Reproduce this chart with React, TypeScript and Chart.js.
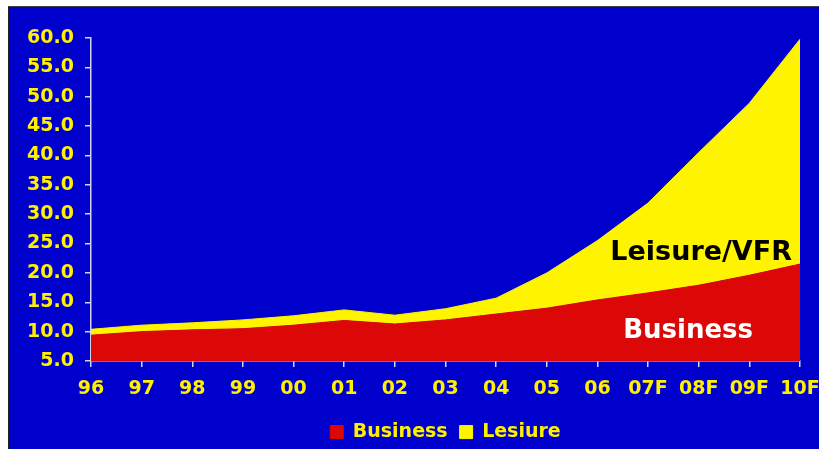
import React, { useEffect, useRef } from "react";
import { Chart, registerables } from "chart.js";

Chart.register(...registerables);

const categories = ["96", "97", "98", "99", "00", "01", "02", "03", "04", "05", "06", "07F", "08F", "09F", "10F"];
const business = [9.4, 10.0, 10.3, 10.5, 11.1, 11.9, 11.3, 12.0, 13.0, 14.0, 15.4, 16.6, 17.9, 19.6, 21.5];
const leisure = [1.0, 1.1, 1.2, 1.5, 1.6, 1.8, 1.5, 1.9, 2.7, 6.0, 10.1, 15.3, 22.6, 29.3, 38.3];
const yTicks = [5, 10, 15, 20, 25, 30, 35, 40, 45, 50, 55, 60];
const seriesNames = ["Business", "Lesiure"];
const areaLabels = ["Leisure/VFR", "Business"];

const BLUE = "#0000CC";
const RED = "#DC0808";
const YELLOW = "#FFF400";
const LABEL = "#FFF000";
const AXIS = "#D4D4F4";
const FONT = "'DejaVu Sans', Verdana, sans-serif";

const areaLabelPlugin = {
  id: "areaLabels",
  afterDatasetsDraw(chart: any) {
    const { ctx, scales } = chart;
    const x = scales.x;
    const y = scales.y;
    ctx.save();
    ctx.textAlign = "right";
    ctx.textBaseline = "middle";
    ctx.font = `bold 27px ${FONT}`;
    ctx.fillStyle = "#000000";
    ctx.fillText(areaLabels[0], x.right - 8, y.getPixelForValue(23.4));
    ctx.font = `bold 26px ${FONT}`;
    ctx.fillStyle = "#FFFFFF";
    ctx.fillText(areaLabels[1], x.right - 47, y.getPixelForValue(10.0));
    ctx.restore();
  },
};

export default function App() {
  const ref = useRef<HTMLCanvasElement | null>(null);

  useEffect(() => {
    if (!ref.current) return;
    const chart = new Chart(ref.current, {
      type: "line",
      data: {
        labels: categories,
        datasets: [
          {
            label: seriesNames[0],
            data: business,
            backgroundColor: RED,
            borderColor: RED,
            borderWidth: 1,
            pointRadius: 0,
            fill: "start",
            tension: 0,
          },
          {
            label: seriesNames[1],
            data: leisure,
            backgroundColor: YELLOW,
            borderColor: YELLOW,
            borderWidth: 1,
            pointRadius: 0,
            fill: "-1",
            tension: 0,
          },
        ],
      },
      options: {
        responsive: false,
        animation: false,
        layout: { padding: { left: 0, right: 19, top: 31, bottom: -2.6 } },
        plugins: {
          tooltip: { enabled: false },
          legend: {
            display: true,
            position: "bottom",
            fullSize: false,
            labels: {
              color: LABEL,
              font: { family: FONT, size: 19, weight: "bold" },
              boxWidth: 13,
              boxHeight: 13,
              padding: 12,
            },
          },
        },
        scales: {
          x: {
            type: "category",
            offset: false,
            z: 1,
            grid: {
              display: true,
              drawOnChartArea: false,
              drawTicks: true,
              tickLength: 6,
              color: AXIS,
              lineWidth: 1.5,
            },
            border: { display: true, color: AXIS, width: 1.5 },
            ticks: {
              color: LABEL,
              font: { family: FONT, size: 19, weight: "bold" },
              padding: 11,
              maxRotation: 0,
              autoSkip: false,
            },
            afterFit: (s: any) => {
              s.height = 49.6;
              s.paddingLeft = 0;
              s.paddingRight = 0;
            },
          },
          y: {
            stacked: true,
            min: 5,
            max: 60,
            z: 1,
            grid: {
              display: true,
              drawOnChartArea: false,
              drawTicks: true,
              tickLength: 6,
              color: AXIS,
              lineWidth: 1.5,
            },
            border: { display: true, color: AXIS, width: 1.5 },
            ticks: {
              color: LABEL,
              font: { family: FONT, size: 19, weight: "bold" },
              padding: 11,
              callback: (v: any) => Number(v).toFixed(1),
            },
            afterBuildTicks: (s: any) => {
              s.ticks = yTicks.map((v) => ({ value: v }));
            },
            afterFit: (s: any) => {
              s.width = 82;
              s.paddingTop = 0;
              s.paddingBottom = 0;
            },
          },
        },
      },
      plugins: [areaLabelPlugin],
    } as any);
    return () => chart.destroy();
  }, []);

  return (
    <div
      style={{
        position: "fixed",
        left: 0,
        top: 0,
        width: 819,
        height: 449,
        background: "#FFFFFF",
        overflow: "hidden",
      }}
    >
      <div
        style={{
          position: "absolute",
          left: 8,
          top: 6,
          width: 811,
          height: 443,
          boxSizing: "border-box",
          borderLeft: "1px solid #202020",
          borderTop: "1px solid #404040",
          background: BLUE,
        }}
      >
        <canvas ref={ref} width={810} height={442} style={{ display: "block" }} />
      </div>
    </div>
  );
}
